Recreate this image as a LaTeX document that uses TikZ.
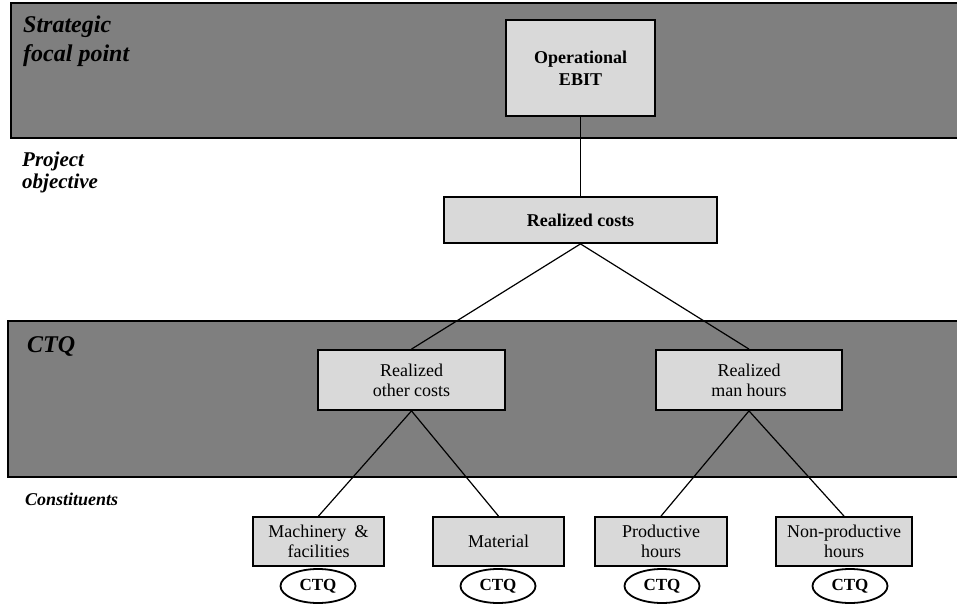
\documentclass[tikz,border=0pt]{standalone}
\usepackage{fontspec}
\setmainfont{Liberation Serif}
\usetikzlibrary{shapes.geometric}
\definecolor{bandgray}{RGB}{127,127,127}
\definecolor{boxgray}{RGB}{217,217,217}
\begin{document}
\begin{tikzpicture}[x=1pt,y=-1pt,
  bandedge/.style={line width=2.6pt},
  bandlabel/.style={anchor=base west,inner sep=0pt,align=left,font=\bfseries\itshape},
  boxnode/.style={draw,line width=1.8pt,fill=boxgray,align=center,inner sep=0pt,
    font=\fontsize{18}{20}\selectfont},
  boldbox/.style={boxnode,font=\bfseries\fontsize{18}{22}\selectfont},
  link/.style={line width=1.2pt},
  ctq/.style={ellipse,draw,line width=1.8pt,fill=white,inner sep=0pt,
    minimum width=75pt,minimum height=34pt,font=\bfseries\fontsize{17}{17}\selectfont}
]
\useasboundingbox (0,0) rectangle (957,604);
\clip (0,0) rectangle (957,604);

% horizontal bands
\fill[bandgray] (11,3) rectangle (962,138);
\draw[bandedge] (962,3) -- (11,3) -- (11,138) -- (962,138);
\fill[bandgray] (8,321) rectangle (962,477);
\draw[bandedge] (962,321) -- (8,321) -- (8,477) -- (962,477);

% level labels (anchored at the baseline of their last line)
\node[bandlabel,font=\bfseries\itshape\fontsize{24}{29}\selectfont] (lstrat) at (23,62) {Strategic\\focal point};
\node[bandlabel,font=\bfseries\itshape\fontsize{21}{21}\selectfont] (lproj) at (22,188) {Project\\objective};
\node[bandlabel,font=\bfseries\itshape\fontsize{24}{29}\selectfont] (lctq) at (27,352) {CTQ};
\node[bandlabel,font=\bfseries\itshape\fontsize{18}{18}\selectfont] (lcons) at (25,505) {Constituents};

% boxes
\node[boldbox,minimum width=149pt,minimum height=96pt] (ebit) at (580.5,68) {Operational\\EBIT};
\node[boldbox,minimum width=273pt,minimum height=46pt] (rc) at (580.5,220) {Realized costs};
\node[boxnode,minimum width=187pt,minimum height=60pt] (roc) at (411.5,380) {Realized\\other costs};
\node[boxnode,minimum width=186pt,minimum height=60pt] (rmh) at (749,380) {Realized\\man hours};
\node[boxnode,minimum width=131pt,minimum height=49pt] (mach) at (318.5,541.5) {Machinery\hspace{0.45em}\&\\facilities};
\node[boxnode,minimum width=131pt,minimum height=49pt] (mat) at (498.5,541.5) {Material};
\node[boxnode,minimum width=132pt,minimum height=49pt] (prod) at (661,541.5) {Productive\\hours};
\node[boxnode,minimum width=136pt,minimum height=49pt] (nprod) at (844,541.5) {Non-productive\\hours};

% connectors
\draw[link] (ebit.south) -- (rc.north);
\draw[link] (rc.south) -- (roc.north);
\draw[link] (rc.south) -- (rmh.north);
\draw[link] (roc.south) -- (mach.north);
\draw[link] (roc.south) -- (mat.north);
\draw[link] (rmh.south) -- (prod.north);
\draw[link] (rmh.south) -- (nprod.north);

% CTQ markers
\node[ctq] (c1) at (318,586) {CTQ};
\node[ctq] (c2) at (498,586) {CTQ};
\node[ctq] (c3) at (662,586) {CTQ};
\node[ctq] (c4) at (850,586) {CTQ};
\end{tikzpicture}
\end{document}
